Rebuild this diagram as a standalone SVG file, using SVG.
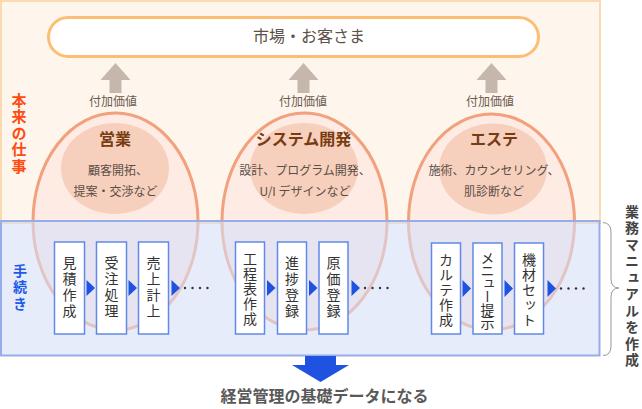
<svg xmlns="http://www.w3.org/2000/svg" width="642" height="409" viewBox="0 0 642 409">
<defs>
<style>
text{font-family:"Noto Sans CJK JP","Noto Sans",sans-serif;}
.vt{writing-mode:vertical-rl;text-anchor:middle;}
.ell{fill:#fdebe4;stroke:#f3a07c;stroke-width:3;}
.inner{fill:#f7d0bd;}
.up{fill:#c5b7ac;}
.val{font-size:12px;fill:#6b5b4f;text-anchor:middle;}
.ttl{font-size:16px;font-weight:bold;fill:#783c12;text-anchor:middle;}
.sub{font-size:12px;fill:#5a4e46;text-anchor:middle;}
.box{fill:#fff;stroke:#6089e8;stroke-width:1.5;}
.bt{font-size:14px;fill:#333;}
.tri{fill:#1f52e0;}
.dot{fill:#333;}
</style>
</defs>
<rect width="642" height="409" fill="#fff"/>
<!-- frames -->
<rect id="frame-work" x="1" y="1" width="599" height="222" fill="#fef5ec" stroke="#fcd9b0" stroke-width="2"/>
<g id="market">
<rect x="48.5" y="17.5" width="490" height="39" rx="19.5" fill="#fff" stroke="#fdbe74" stroke-width="3"/>
<text x="309" y="42" font-size="16" fill="#5e5047" text-anchor="middle">市場・お客さま</text>
</g>
<text x="19" y="134" class="vt" font-size="15" font-weight="bold" fill="#ff4b12" letter-spacing="1.5">本来の仕事</text>
<!-- arrows up -->
<g id="connectors-up">
<path class="up" d="M115.5,63 L130.5,80 L121.5,80 L121.5,93 L109.5,93 L109.5,80 L100.5,80 Z"/>
<path class="up" d="M303.5,63 L318.5,80 L309.5,80 L309.5,93 L297.5,93 L297.5,80 L288.5,80 Z"/>
<path class="up" d="M491.5,63 L506.5,80 L497.5,80 L497.5,93 L485.5,93 L485.5,80 L476.5,80 Z"/>
<text class="val" x="113" y="106">付加価値</text>
<text class="val" x="303" y="106">付加価値</text>
<text class="val" x="490" y="106">付加価値</text>
</g>
<!-- ellipses -->
<g id="sales">
<ellipse class="ell" cx="115.5" cy="221.5" rx="82.5" ry="108.5"/>
<ellipse class="inner" cx="115" cy="168.5" rx="54" ry="45.5"/>
<text class="ttl" x="115" y="145">営業</text>
<text class="sub" x="118" y="175">顧客開拓、</text>
<text class="sub" x="115.5" y="196">提案・交渉など</text>
</g>
<g id="system">
<ellipse class="ell" cx="304.5" cy="221.5" rx="82.5" ry="108.5"/>
<ellipse class="inner" cx="304" cy="168.5" rx="54" ry="45.5"/>
<text class="ttl" x="303.5" y="145">システム開発</text>
<text class="sub" x="305" y="175">設計、プログラム開発、</text>
<text class="sub" x="305" y="196">U/I デザインなど</text>
</g>
<g id="esthe">
<ellipse class="ell" cx="491.5" cy="222" rx="83" ry="108"/>
<ellipse class="inner" cx="493" cy="169" rx="54" ry="45.5"/>
<text class="ttl" x="494" y="145">エステ</text>
<text class="sub" x="494" y="175">施術、カウンセリング、</text>
<text class="sub" x="494" y="196">肌診断など</text>
</g>
<!-- procedures band -->
<rect id="frame-proc" x="1" y="221" width="598.5" height="134.5" fill="#d5dff8" fill-opacity="0.58" stroke="#95ade9" stroke-width="2"/>
<text x="20" y="288" class="vt" font-size="14" font-weight="bold" fill="#1d5ae6" letter-spacing="2.5">手続き</text>
<!-- process boxes -->
<g id="p1"><rect class="box" x="54.5" y="242" width="30" height="92"/><text class="vt bt" x="69.5" y="288" letter-spacing="2">見積作成</text></g>
<g id="p2"><rect class="box" x="96.5" y="242" width="30" height="92"/><text class="vt bt" x="111.5" y="288" letter-spacing="2">受注処理</text></g>
<g id="p3"><rect class="box" x="138.5" y="242" width="30" height="92"/><text class="vt bt" x="153.5" y="288" letter-spacing="2">売上計上</text></g>
<g id="p4"><rect class="box" x="235.5" y="242" width="29" height="92"/><text class="vt bt" x="250" y="289" letter-spacing="1">工程表作成</text></g>
<g id="p5"><rect class="box" x="277.5" y="242" width="29" height="92"/><text class="vt bt" x="292" y="288" letter-spacing="2">進捗登録</text></g>
<g id="p6"><rect class="box" x="319" y="242" width="29" height="92"/><text class="vt bt" x="333.5" y="288" letter-spacing="2">原価登録</text></g>
<g id="p7"><rect class="box" x="431.5" y="243" width="29" height="91"/><text class="vt bt" x="446" y="290" letter-spacing="1">カルテ作成</text></g>
<g id="p8"><rect class="box" x="473" y="243" width="29" height="91"/><text class="vt bt" x="487.5" y="290" letter-spacing="-1">メニュー提示</text></g>
<g id="p9"><rect class="box" x="514.5" y="243" width="29" height="91"/><text class="vt bt" x="529" y="290" letter-spacing="1">機材セット</text></g>
<!-- connectors -->
<g id="connectors">
<path class="tri" d="M86.5,280 L95,288 L86.5,296 Z"/>
<path class="tri" d="M128.5,280 L137,288 L128.5,296 Z"/>
<path class="tri" d="M171.5,280 L180,288 L171.5,296 Z"/>
<circle class="dot" cx="185" cy="288" r="1.2"/><circle class="dot" cx="192.5" cy="288" r="1.2"/><circle class="dot" cx="200" cy="288" r="1.2"/><circle class="dot" cx="207.5" cy="288" r="1.2"/>
<path class="tri" d="M267,280 L275.5,288 L267,296 Z"/>
<path class="tri" d="M309,280 L317.5,288 L309,296 Z"/>
<path class="tri" d="M351.5,280 L360,288 L351.5,296 Z"/>
<circle class="dot" cx="365" cy="288" r="1.2"/><circle class="dot" cx="372.5" cy="288" r="1.2"/><circle class="dot" cx="380" cy="288" r="1.2"/><circle class="dot" cx="387.5" cy="288" r="1.2"/>
<path class="tri" d="M462.5,280 L471,288.5 L462.5,297 Z"/>
<path class="tri" d="M504.5,280 L513,288.5 L504.5,297 Z"/>
<path class="tri" d="M547.5,280 L556,288.5 L547.5,297 Z"/>
<circle class="dot" cx="561" cy="288.5" r="1.2"/><circle class="dot" cx="568.5" cy="288.5" r="1.2"/><circle class="dot" cx="576" cy="288.5" r="1.2"/><circle class="dot" cx="583.5" cy="288.5" r="1.2"/>
<path d="M305,356 L336,356 L336,365 L349,365 L320.5,382 L292,365 L305,365 Z" fill="#1f52e0"/>
</g>
<!-- brace and manual -->
<path d="M603,222.5 Q611,223 611,232 L611,279 Q611,288 619,288 Q611,288 611,297 L611,346 Q611,355.5 603,355.5" fill="none" stroke="#999" stroke-width="1"/>
<text x="632" y="287" class="vt" font-size="14" font-weight="bold" fill="#444" letter-spacing="2.5">業務マニュアルを作成</text>
<text x="324.5" y="402" font-size="16" font-weight="bold" fill="#595959" text-anchor="middle">経営管理の基礎データになる</text>
</svg>
